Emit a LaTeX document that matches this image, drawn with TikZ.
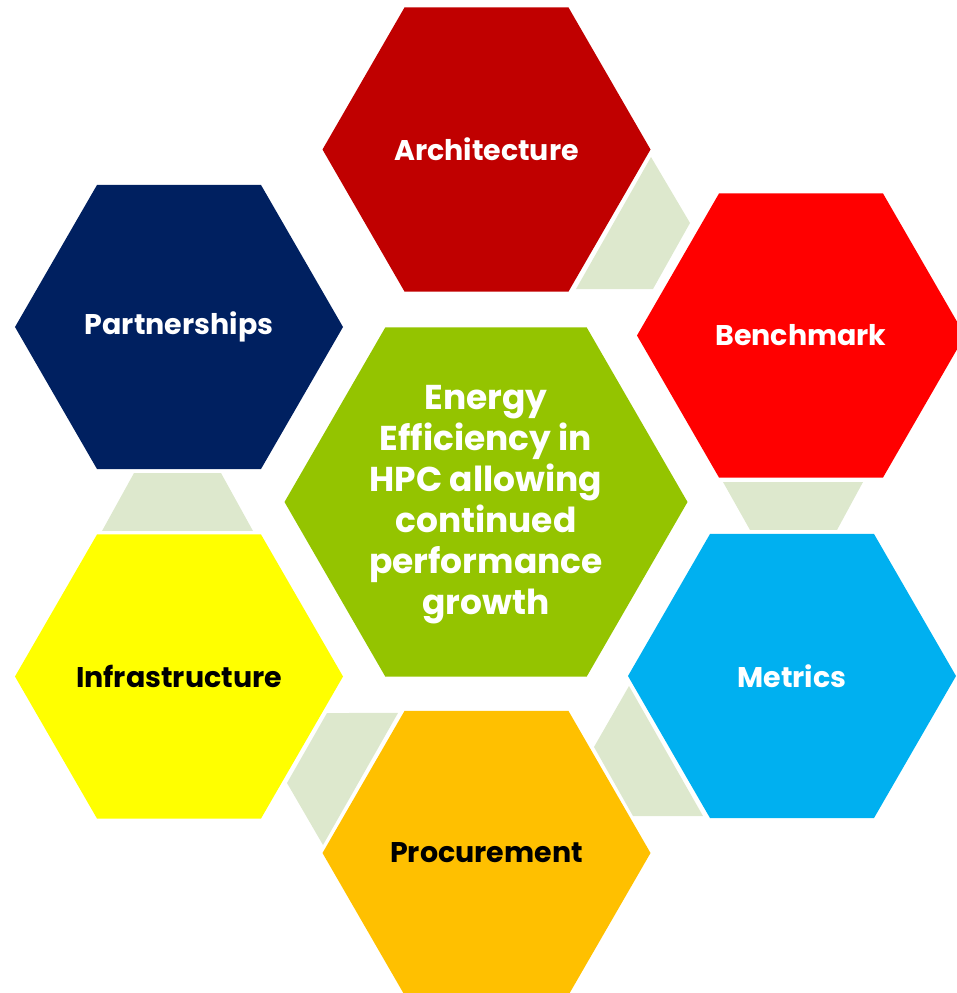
\documentclass[tikz,border=0pt]{standalone}
\usepackage{fontspec}
\setmainfont{Poppins}
\usetikzlibrary{shapes.geometric, calc}
\definecolor{archred}{HTML}{C00000}
\definecolor{benchred}{HTML}{FF0000}
\definecolor{partblue}{HTML}{002060}
\definecolor{metricblue}{HTML}{00B0F0}
\definecolor{infrayellow}{HTML}{FFFF00}
\definecolor{procorange}{HTML}{FFC000}
\definecolor{coregreen}{HTML}{94C400}
\definecolor{linkgreen}{HTML}{DDE8CD}
\tikzset{
  hexa/.style={regular polygon, regular polygon sides=6, inner sep=0pt, outer sep=0pt,
    minimum size=65.6mm},
  core/.style={hexa, minimum size=80.6mm},
  hexlabel/.style={align=center, text=white, inner sep=0pt,
    font=\bfseries\fontsize{16.2}{20}\selectfont},
  corelabel/.style={hexlabel, yshift=-0.6mm, font=\bfseries\fontsize{19.6}{23.3}\selectfont},
  link/.style={fill=linkgreen}
}

\begin{document}
\begin{tikzpicture}[x=0.2mm, y=-0.2mm]
    \clip (0,0) rectangle (957,993);

    \node[core, fill=coregreen, label={[corelabel]center:Energy\\Efficiency in\\HPC allowing\\continued\\performance\\growth}] (core) at (486,502) {};
    \node[hexa, fill=archred, label={[hexlabel]center:Architecture}] (arch) at (486.5,149.5) {};
    \node[hexa, fill=benchred, label={[hexlabel]center:Benchmark}] (bench) at (801,335.5) {};
    \node[hexa, fill=metricblue, label={[hexlabel]center:Metrics}] (metrics) at (792,676) {};
    \node[hexa, fill=procorange, label={[hexlabel, text=black]center:Procurement}] (proc) at (486.5,853) {};
    \node[hexa, fill=infrayellow, label={[hexlabel, text=black]center:Infrastructure}] (infra) at (179,676.5) {};
    \node[hexa, fill=partblue, label={[hexlabel]center:Partnerships}] (part) at (179,327) {};

    % links between neighbouring cells
    \fill[link] ($(arch.0)+(0.5,7.5)$) -- ($(bench.120)+(-29,29.5)$)
      -- ($(bench.180)+(16,-46.5)$) -- ($(arch.300)+(7.5,-2.5)$) -- cycle;
    \fill[link] ($(bench.240)+(4,4.5)$) -- ($(bench.300)+(-20,4.5)$)
      -- ($(metrics.60)+(-37,-4)$) -- ($(metrics.120)+(40,-4)$) -- cycle;
    \fill[link] ($(metrics.180)+(1,10)$) -- ($(metrics.240)+(-7,-2)$)
      -- ($(proc.0)+(-17.5,-37)$) -- ($(proc.60)+(25.5,36)$) -- cycle;
    \fill[link] ($(infra.0)+(-16,36.5)$) -- ($(proc.120)+(-6.5,2)$)
      -- ($(proc.180)+(0.5,-8)$) -- ($(infra.300)+(26,-35.5)$) -- cycle;
    \fill[link] ($(part.240)+(37,4)$) -- ($(part.300)+(-40,4)$)
      -- ($(infra.60)+(-8,-3.5)$) -- ($(infra.120)+(5,-3.5)$) -- cycle;
\end{tikzpicture}
\end{document}
